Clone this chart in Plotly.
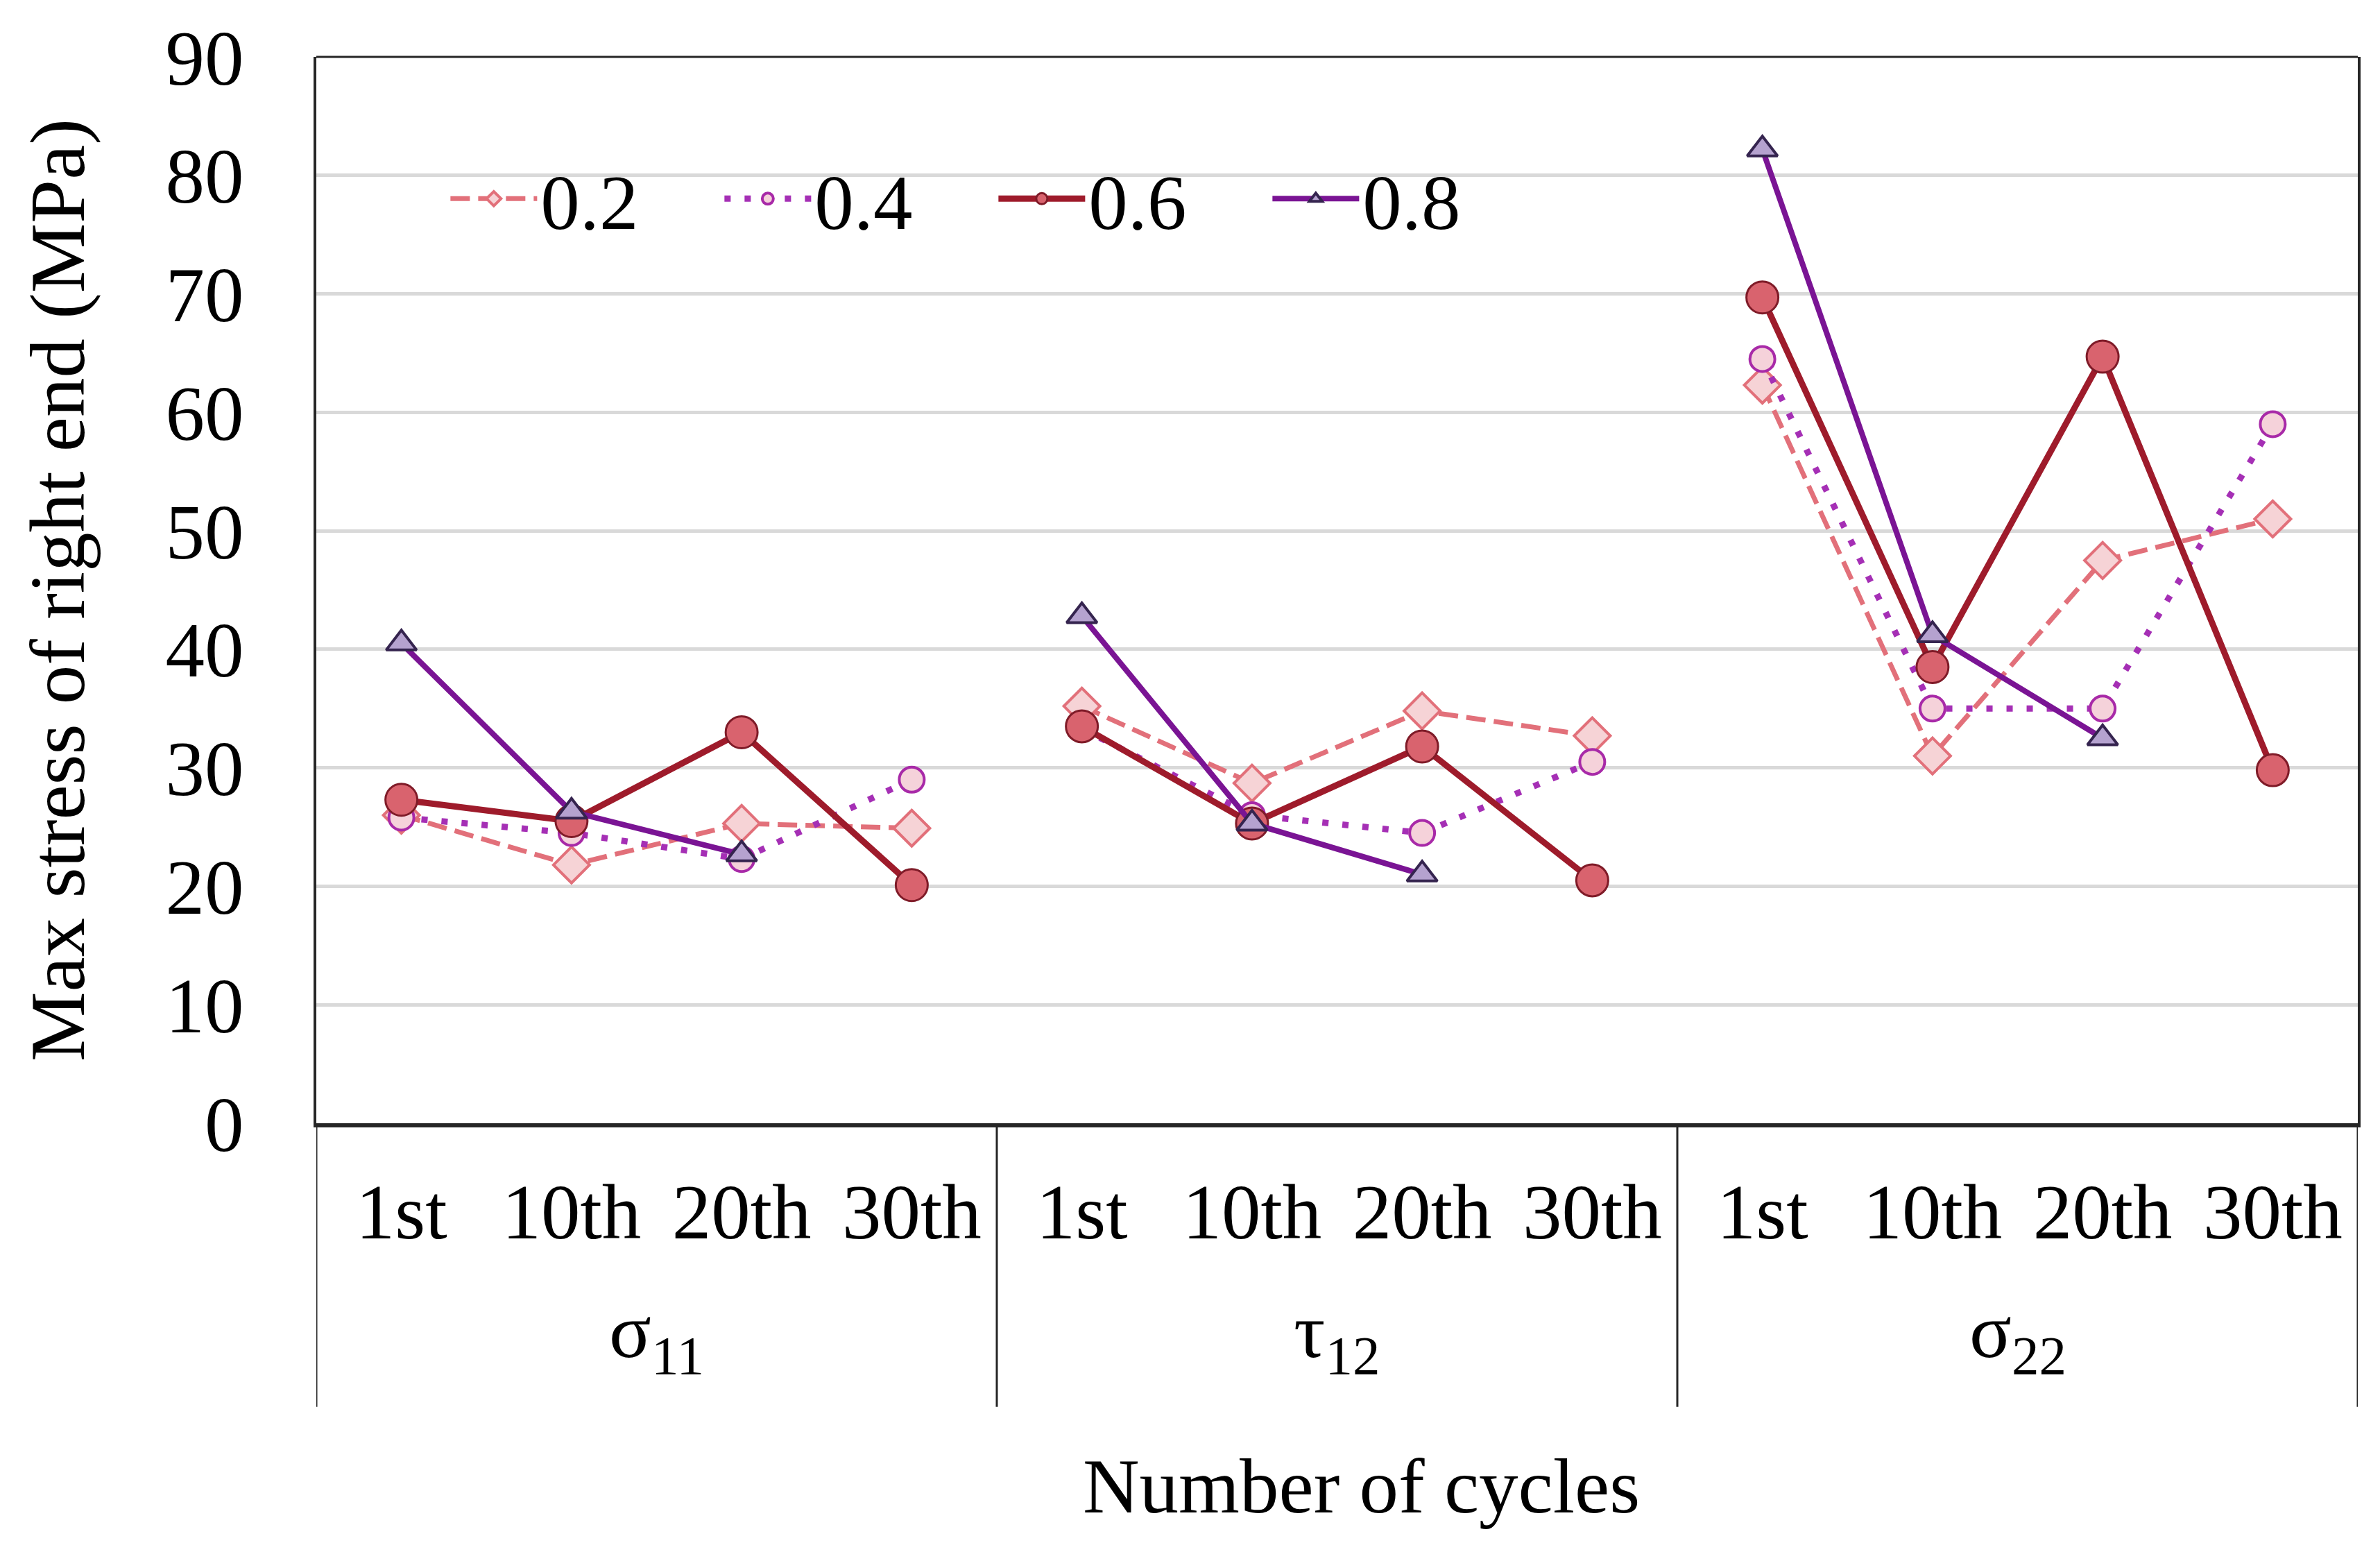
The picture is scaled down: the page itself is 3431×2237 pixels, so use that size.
import plotly.graph_objects as go

groups = ["σ<sub>11</sub>", "τ<sub>12</sub>", "σ<sub>22</sub>"]
cycles = ["1st", "10th", "20th", "30th"]
series_names = ["0.2", "0.4", "0.6", "0.8"]

# values per series, per group (order: 1st, 10th, 20th, 30th)
s02 = [[26.0, 21.8, 25.3, 24.9], [35.2, 28.7, 34.8, 32.7], [62.3, 31.0, 47.5, 51.0]]
s04 = [[25.8, 24.5, 22.3, 29.0], [33.3, 26.0, 24.5, 30.5], [64.5, 35.0, 35.0, 59.0]]
s06 = [[27.3, 25.5, 33.0, 20.1], [33.5, 25.3, 31.8, 20.5], [69.7, 38.5, 64.7, 29.8]]
s08 = [[40.5, 26.3, 22.7, None], [42.8, 25.3, 21.0, None], [82.2, 41.2, 32.5, None]]
values = [s02, s04, s06, s08]

n = len(cycles)
styles = [
    dict(line=dict(color="#e2707a", width=7, dash="28px,12px"),
         marker=dict(symbol="diamond", size=40, color="#f6d3d6",
                     line=dict(color="#e2707a", width=4))),
    dict(line=dict(color="#a52fb5", width=9, dash="9px,20px"),
         marker=dict(symbol="circle", size=36, color="#f5d2da",
                     line=dict(color="#a82aa8", width=4))),
    dict(line=dict(color="#9e1b2b", width=9, dash="solid"),
         marker=dict(symbol="circle", size=46, color="#d9636e",
                     line=dict(color="#7f1b28", width=3))),
    dict(line=dict(color="#7a1494", width=8, dash="solid"),
         marker=dict(symbol="triangle-up", size=38, color="#b5a2cf",
                     line=dict(color="#35244f", width=4))),
]

fig = go.Figure()
for si, name in enumerate(series_names):
    for gi, g in enumerate(groups):
        fig.add_trace(go.Scatter(
            x=[gi * n + ci for ci in range(n)],
            y=values[si][gi],
            mode="lines+markers",
            name=name,
            legendgroup=name,
            showlegend=(gi == 0),
            line=styles[si]["line"],
            marker=styles[si]["marker"],
        ))

FS = 113
font_family = "Liberation Serif"

# group labels, dividers, x title
div_bottom = -0.266
for gi, g in enumerate(groups):
    fig.add_annotation(x=gi * n + (n - 1) / 2, y=-0.2, xref="x", yref="paper",
                       text=g, showarrow=False, font=dict(size=FS, family=font_family),
                       xanchor="center", yanchor="middle")
for b in range(len(groups) + 1):
    fig.add_shape(type="line", xref="x", yref="paper",
                  x0=b * n - 0.5, x1=b * n - 0.5, y0=0, y1=div_bottom,
                  line=dict(color="#262626", width=3))
fig.add_shape(type="line", xref="paper", yref="paper", x0=0, x1=1, y0=1, y1=1,
              line=dict(color="#262626", width=3))
fig.add_annotation(x=0.512, y=-0.34, xref="paper", yref="paper",
                   text="Number of cycles", showarrow=False,
                   font=dict(size=FS, family=font_family),
                   xanchor="center", yanchor="middle")

fig.update_layout(
    width=3431, height=2237,
    margin=dict(l=448, r=40, t=74, b=626),
    plot_bgcolor="white", paper_bgcolor="white",
    font=dict(family=font_family, size=FS, color="black"),
    legend=dict(orientation="h", x=0.064, y=0.867, xanchor="left", yanchor="middle",
                font=dict(size=FS), itemwidth=125, entrywidth=255,
                entrywidthmode="pixels", bgcolor="rgba(0,0,0,0)", tracegroupgap=0),
    showlegend=True,
)
fig.update_xaxes(
    range=[-0.5, len(groups) * n - 0.5],
    tickvals=list(range(len(groups) * n)),
    ticktext=cycles * len(groups),
    showline=True, linecolor="#262626", linewidth=6, mirror=False,
    tickfont=dict(size=FS, family=font_family),
    showgrid=False, ticks="", zeroline=False,
    ticklabelstandoff=24,
)
fig.update_yaxes(
    range=[0, 90], dtick=10,
    showline=True, linecolor="#262626", linewidth=4, mirror=True,
    showgrid=True, gridcolor="#d9d9d9", gridwidth=5,
    zeroline=False,
    tickfont=dict(size=FS, family=font_family),
    ticks="", ticklabelstandoff=78,
    title=dict(text="Max stress of right end (MPa)", font=dict(size=FS), standoff=80),
)

fig.write_html("out.html")
